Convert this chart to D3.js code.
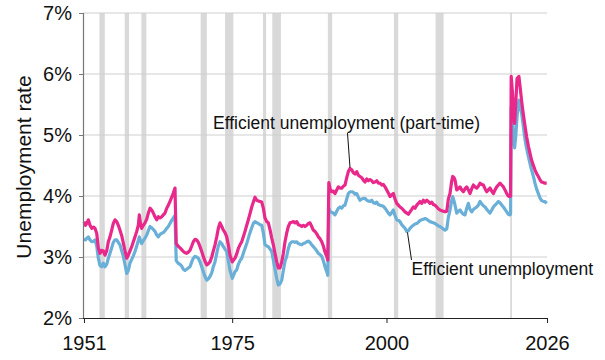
<!DOCTYPE html>
<html>
<head>
<meta charset="utf-8">
<script src="https://cdn.jsdelivr.net/npm/d3@7"></script>
<style>
  body { margin: 0; background: #fff; }
  text { font-family: "Liberation Sans", Arial, Helvetica, sans-serif; }
</style>
</head>
<body>
<svg id="chart" width="605" height="360"></svg>
<script>
// Time (decimal years)
const years = [
  1951.00,1951.24,1951.49,1951.70,1951.97,1952.25,1952.54,1952.78,1953.06,1953.32,
  1953.59,1953.87,1954.13,1954.40,1954.68,1954.94,1955.21,1955.49,1955.75,1956.02,
  1956.30,1956.56,1956.83,1957.11,1957.37,1957.64,1957.92,1958.18,1958.45,1958.73,
  1958.99,1959.26,1959.54,1959.80,1959.96,1960.15,1960.34,1960.61,1960.88,1961.16,
  1961.42,1961.69,1961.97,1962.23,1962.50,1962.78,1963.04,1963.31,1963.59,1963.85,
  1964.12,1964.40,1964.66,1964.93,1965.21,1965.47,1965.74,1965.94,1966.23,1966.55,
  1966.83,1967.09,1967.36,1967.64,1967.90,1968.17,1968.45,1968.71,1968.98,1969.26,
  1969.52,1969.79,1970.07,1970.33,1970.60,1970.88,1971.14,1971.41,1971.69,1971.95,
  1972.22,1972.50,1972.76,1973.03,1973.31,1973.57,1973.84,1974.12,1974.38,1974.65,
  1975.02,1975.22,1975.46,1975.74,1976.00,1976.27,1976.55,1976.81,1977.08,1977.36,
  1977.62,1977.89,1978.17,1978.43,1978.70,1978.98,1979.24,1979.51,1979.79,1980.05,
  1980.32,1980.60,1980.86,1981.13,1981.41,1981.67,1981.94,1982.22,1982.48,1982.75,
  1983.03,1983.29,1983.56,1983.83,1984.10,1984.37,1984.65,1984.91,1985.18,1985.46,
  1985.72,1985.99,1986.27,1986.53,1986.80,1987.08,1987.34,1987.61,1987.89,1988.15,
  1988.42,1988.70,1988.96,1989.23,1989.51,1989.77,1990.04,1990.32,1990.49,1990.66,
  1990.85,1991.13,1991.39,1991.66,1991.94,1992.20,1992.47,1992.75,1993.01,1993.28,
  1993.56,1993.82,1994.09,1994.37,1994.63,1994.90,1995.18,1995.44,1995.71,1995.99,
  1996.25,1996.52,1996.80,1997.06,1997.33,1997.61,1997.87,1998.14,1998.42,1998.68,
  1998.95,1999.23,1999.49,1999.76,2000.04,2000.30,2000.57,2000.85,2001.11,2001.38,
  2001.66,2001.92,2002.19,2002.47,2002.73,2003.00,2003.28,2003.54,2003.81,2004.09,
  2004.35,2004.62,2004.90,2005.16,2005.43,2005.71,2005.97,2006.24,2006.52,2006.78,
  2007.05,2007.33,2007.59,2007.86,2008.14,2008.40,2008.67,2008.95,2009.21,2009.48,
  2009.76,2010.02,2010.29,2010.57,2010.73,2010.94,2011.10,2011.38,2011.64,2011.91,
  2012.19,2012.45,2012.72,2013.00,2013.26,2013.53,2013.81,2014.07,2014.34,2014.62,
  2014.88,2015.15,2015.43,2015.69,2015.96,2016.24,2016.50,2016.77,2017.05,2017.31,
  2017.58,2017.86,2018.12,2018.39,2018.67,2018.93,2019.20,2019.48,2019.74,2019.93,
  2020.10,2020.20,2020.40,2020.60,2020.75,2020.95,2021.15,2021.45,2021.65,2021.90,
  2022.15,2022.45,2022.70,2023.00,2023.25,2023.50,2023.80,2024.05,2024.30,2024.60,
  2024.85,2025.10,2025.40,2025.65,2025.95
];

// Efficient unemployment including part-time (percent)
const partTime = [
  3.58,3.52,3.56,3.61,3.52,3.47,3.49,3.47,3.39,3.15,
  3.06,3.11,3.10,3.03,3.10,3.25,3.33,3.44,3.55,3.61,
  3.58,3.52,3.44,3.35,3.23,3.10,2.98,3.03,3.10,3.17,
  3.25,3.33,3.42,3.52,3.69,3.55,3.47,3.52,3.56,3.62,
  3.72,3.80,3.77,3.72,3.66,3.61,3.66,3.64,3.66,3.69,
  3.72,3.80,3.85,3.91,3.98,4.05,4.13,3.22,3.18,3.15,
  3.12,3.09,3.07,3.06,3.08,3.11,3.18,3.25,3.29,3.28,
  3.24,3.17,3.09,3.01,2.93,2.87,2.89,2.92,3.00,3.10,
  3.20,3.33,3.47,3.56,3.50,3.44,3.40,3.33,3.20,3.03,
  2.92,2.95,2.98,3.05,3.14,3.20,3.25,3.33,3.42,3.52,
  3.61,3.71,3.82,3.90,3.98,3.93,3.92,3.91,3.90,3.80,
  3.64,3.58,3.56,3.45,3.31,3.20,3.06,2.92,2.82,2.82,
  2.92,3.06,3.25,3.39,3.50,3.56,3.57,3.58,3.56,3.58,
  3.53,3.52,3.50,3.52,3.50,3.52,3.55,3.56,3.50,3.44,
  3.42,3.38,3.33,3.30,3.25,3.18,3.08,3.01,2.95,4.22,
  4.12,4.07,4.08,4.04,4.10,4.15,4.13,4.13,4.16,4.18,
  4.30,4.40,4.45,4.43,4.38,4.36,4.40,4.34,4.32,4.30,
  4.26,4.23,4.28,4.25,4.27,4.25,4.22,4.23,4.25,4.21,
  4.21,4.18,4.19,4.15,4.10,4.05,3.99,4.02,4.04,3.95,
  3.88,3.85,3.82,3.80,3.77,3.74,3.72,3.70,3.74,3.78,
  3.82,3.80,3.85,3.88,3.91,3.88,3.93,3.90,3.93,3.91,
  3.88,3.90,3.86,3.85,3.82,3.79,3.77,3.76,3.75,3.74,
  3.75,3.95,4.04,4.25,4.32,4.30,4.26,4.10,4.12,4.15,
  4.10,4.07,4.12,4.15,4.10,4.04,4.12,4.18,4.15,4.13,
  4.16,4.21,4.19,4.18,4.12,4.07,4.10,4.13,4.08,4.04,
  4.10,4.15,4.18,4.21,4.18,4.15,4.10,4.04,4.00,3.99,
  4.00,5.96,5.70,5.30,5.19,5.55,5.93,5.96,5.78,5.55,
  5.35,5.14,4.97,4.81,4.70,4.59,4.50,4.43,4.37,4.32,
  4.27,4.23,4.22,4.21,4.21
];

// Efficient unemployment (percent)
const efficient = [
  3.30,3.28,3.31,3.33,3.28,3.25,3.26,3.28,3.18,2.98,
  2.86,2.84,2.90,2.84,2.88,2.98,3.06,3.15,3.24,3.28,
  3.28,3.24,3.20,3.10,3.01,2.88,2.73,2.78,2.90,2.96,
  3.02,3.09,3.18,3.27,3.33,3.27,3.22,3.27,3.31,3.36,
  3.43,3.50,3.48,3.45,3.42,3.36,3.33,3.37,3.39,3.40,
  3.43,3.47,3.50,3.55,3.60,3.64,3.68,2.94,2.90,2.88,
  2.85,2.80,2.78,2.80,2.82,2.84,2.92,2.98,3.01,3.00,
  2.98,2.92,2.84,2.76,2.68,2.62,2.64,2.68,2.74,2.84,
  2.92,3.06,3.18,3.25,3.22,3.17,3.13,3.09,2.94,2.78,
  2.65,2.70,2.76,2.79,2.88,2.94,2.98,3.06,3.14,3.22,
  3.31,3.40,3.48,3.55,3.58,3.56,3.55,3.53,3.52,3.40,
  3.20,3.18,3.17,3.13,3.09,2.95,2.80,2.65,2.54,2.56,
  2.62,2.78,2.93,3.01,3.14,3.22,3.25,3.25,3.24,3.25,
  3.22,3.21,3.20,3.22,3.23,3.25,3.26,3.24,3.20,3.17,
  3.14,3.10,3.06,3.04,3.01,2.94,2.84,2.76,2.70,3.80,
  3.75,3.73,3.72,3.69,3.75,3.80,3.82,3.80,3.84,3.85,
  3.95,4.04,4.07,4.07,4.06,4.03,4.04,3.98,3.93,3.95,
  3.96,3.96,3.93,3.92,3.91,3.93,3.89,3.88,3.90,3.86,
  3.85,3.84,3.83,3.80,3.76,3.72,3.69,3.73,3.77,3.68,
  3.61,3.60,3.58,3.53,3.50,3.47,3.42,3.43,3.47,3.50,
  3.52,3.54,3.55,3.57,3.60,3.61,3.62,3.63,3.62,3.60,
  3.58,3.57,3.56,3.55,3.53,3.51,3.50,3.48,3.46,3.44,
  3.46,3.65,3.77,3.93,3.99,3.92,3.85,3.72,3.75,3.77,
  3.73,3.70,3.69,3.80,3.88,3.78,3.74,3.78,3.80,3.82,
  3.85,3.91,3.87,3.84,3.82,3.78,3.75,3.72,3.77,3.82,
  3.85,3.88,3.91,3.89,3.85,3.82,3.78,3.74,3.70,3.69,
  3.70,5.45,5.30,4.90,4.79,5.00,5.30,5.57,5.48,5.35,
  5.15,4.92,4.78,4.64,4.53,4.43,4.32,4.21,4.12,4.04,
  3.97,3.93,3.91,3.91,3.88
];

// Recession periods (start, end)
const recessionStart = [1953.50,1957.60,1960.30,1969.90,1973.85,1980.00,1981.50,1990.50,2001.20,2007.95,2020.05];
const recessionEnd   = [1954.37,1958.30,1961.10,1970.90,1975.20,1980.50,1982.90,1991.20,2001.90,2009.25,2020.33];

const yTicks = [2, 3, 4, 5, 6, 7];
const xTicks = [1951, 1975, 2000, 2026];

const labelPartTime = "Efficient unemployment (part-time)";
const labelEfficient = "Efficient unemployment";

const svg = d3.select("#chart");
const margin = { top: 13, right: 58, bottom: 42, left: 83 };
const W = 605, H = 360;

const x = d3.scaleLinear().domain([1951, 2026]).range([margin.left + 1, W - margin.right]);
const y = d3.scaleLinear().domain([2, 7]).range([H - margin.bottom, margin.top]);

// recession shading
svg.append("g").selectAll("rect")
  .data(recessionStart.map((s, i) => [s, recessionEnd[i]]))
  .join("rect")
  .attr("x", d => x(d[0]))
  .attr("width", d => Math.max(1.5, x(d[1]) - x(d[0])))
  .attr("y", y(7))
  .attr("height", y(2) - y(7))
  .attr("fill", "#d9d9d9");

// horizontal gridlines
svg.append("g").selectAll("line")
  .data(yTicks.filter(d => d > 2))
  .join("line")
  .attr("x1", margin.left)
  .attr("x2", x(2026))
  .attr("y1", d => y(d))
  .attr("y2", d => y(d))
  .attr("stroke", "#cfcfcf")
  .attr("stroke-width", 1);

// series lines
const line = d3.line()
  .x((d, i) => x(years[i]))
  .y(d => y(d));

svg.append("path")
  .datum(efficient)
  .attr("d", line)
  .attr("fill", "none")
  .attr("stroke", "#6aafd8")
  .attr("stroke-width", 3.2)
  .attr("stroke-linejoin", "round");

svg.append("path")
  .datum(partTime)
  .attr("d", line)
  .attr("fill", "none")
  .attr("stroke", "#e8288a")
  .attr("stroke-width", 3.2)
  .attr("stroke-linejoin", "round");

// y axis
const yAxis = svg.append("g")
  .attr("transform", `translate(${margin.left},0)`)
  .call(d3.axisLeft(y).tickValues(yTicks).tickSize(4).tickPadding(7).tickFormat(d => d + "%"));
yAxis.select(".domain").attr("stroke", "#777").attr("stroke-width", 1.2);
yAxis.selectAll(".tick line").attr("stroke", "#777");
yAxis.selectAll("text").attr("font-size", 20).attr("fill", "#111")
  .style("font-family", "'Liberation Sans', Arial, sans-serif");

// x axis
const xAxis = svg.append("g")
  .attr("transform", `translate(0,${y(2)})`)
  .call(d3.axisBottom(x).tickValues(xTicks).tickSize(5).tickPadding(13).tickFormat(d3.format("d")));
xAxis.select(".domain").attr("stroke", "#222").attr("stroke-width", 1.2)
  .attr("d", `M${margin.left},0.5H${x(2026)}`);
xAxis.selectAll(".tick line").attr("stroke", "#222");
xAxis.selectAll("text").attr("font-size", 20).attr("fill", "#111")
  .style("font-family", "'Liberation Sans', Arial, sans-serif");

// y axis title
svg.append("text")
  .attr("transform", `translate(31,167) rotate(-90)`)
  .attr("text-anchor", "middle")
  .attr("font-size", 21)
  .attr("fill", "#111")
  .text("Unemployment rate");

// annotations
svg.append("text")
  .attr("x", 213)
  .attr("y", 129)
  .attr("font-size", 17.5)
  .attr("fill", "#111")
  .text(labelPartTime);
svg.append("line")
  .attr("x1", 347.5).attr("y1", 133)
  .attr("x2", x(1994.09)).attr("y2", y(4.45) - 1)
  .attr("stroke", "#111").attr("stroke-width", 1);

svg.append("text")
  .attr("x", 411.5)
  .attr("y", 274.5)
  .attr("font-size", 17.5)
  .attr("fill", "#111")
  .text(labelEfficient);
svg.append("line")
  .attr("x1", x(2003.4)).attr("y1", y(3.42) + 1)
  .attr("x2", 411.5).attr("y2", 260)
  .attr("stroke", "#111").attr("stroke-width", 1);
</script>
</body>
</html>
